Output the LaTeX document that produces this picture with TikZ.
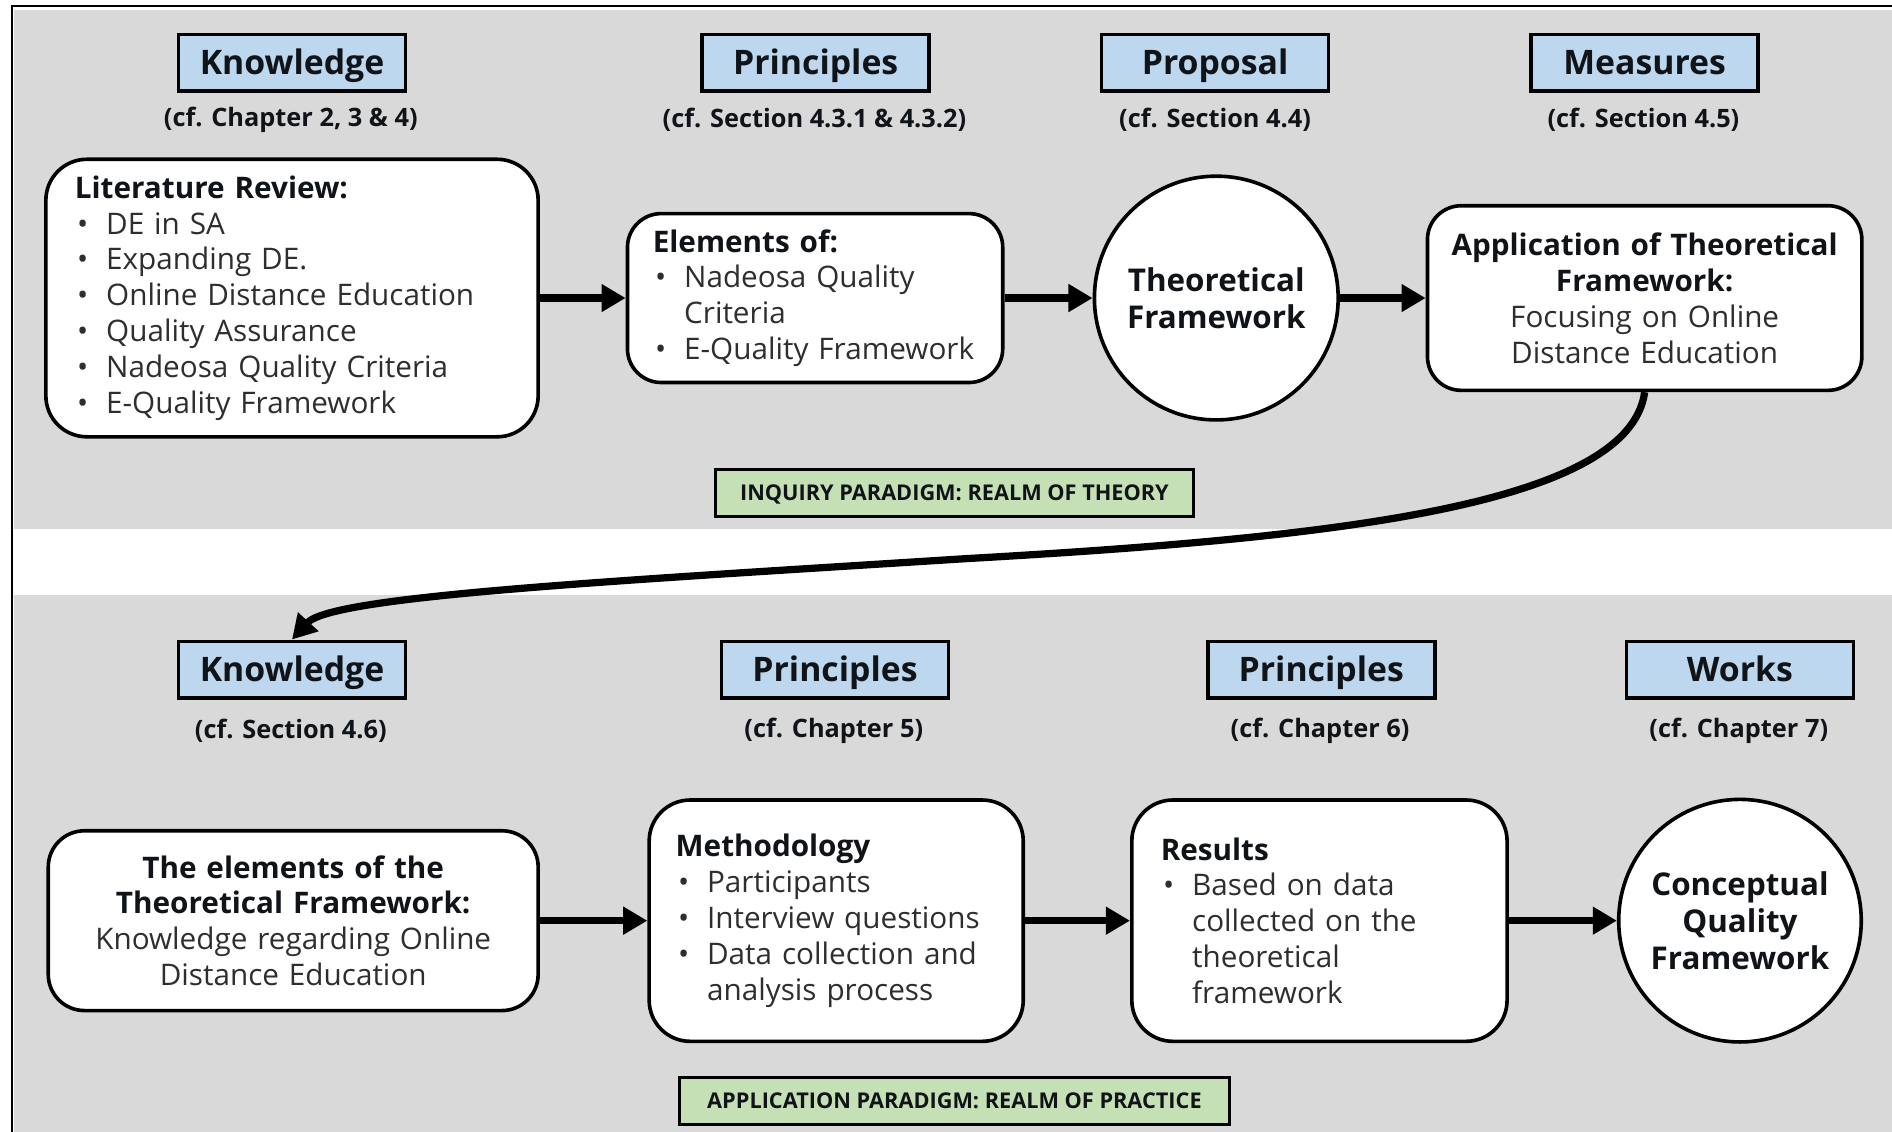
\documentclass[tikz,border=0pt]{standalone}
\usepackage{fontspec}
\setmainfont{Open Sans}
\usetikzlibrary{arrows.meta}

\definecolor{panelgray}{HTML}{D9D9D9}
\definecolor{hdrblue}{HTML}{BDD7EE}
\definecolor{taggreen}{HTML}{C5E0B4}
\definecolor{bodytext}{HTML}{2E2E2E}
\definecolor{inkdark}{HTML}{101418}

% bullet item and continuation indent for the list boxes
\newcommand\itm{\makebox[13pt][l]{\hspace{1pt}\textbullet}}
\newcommand\cont{\hspace*{13pt}}

\tikzset{
  hdr/.style={draw=black, line width=1.5pt, fill=hdrblue, minimum width=94pt,
    minimum height=23.5pt, inner sep=0pt, text=inkdark, text height=10pt, text depth=0.5pt,
    font=\fontsize{14}{16}\selectfont\bfseries},
  refnote/.style={inner sep=0pt, text=inkdark, font=\fontsize{10.5}{12}\selectfont\bfseries},
  card/.style={draw=black, line width=1.5pt, fill=white, rounded corners=14pt,
    inner ysep=0pt, text=bodytext, font=\fontsize{12.3}{14.85}\selectfont},
  disc/.style={draw=black, line width=1.5pt, fill=white, circle, inner sep=0pt,
    align=center, text=inkdark, font=\fontsize{13}{15.5}\selectfont\bfseries},
  tag/.style={draw=black, line width=1.5pt, fill=taggreen, inner sep=0pt,
    minimum height=19.5pt, text=inkdark, text height=6.5pt, text depth=0pt,
    font=\fontsize{9}{10}\selectfont\bfseries},
  flow/.style={line width=3pt, -{Triangle[length=10pt,width=11pt]}},
}

\begin{document}
\begin{tikzpicture}[x=0.5pt, y=-0.5pt]
  \useasboundingbox (0,0) rectangle (1568,938);
  \fill[white] (0,0) rectangle (1568,938);

  % two realm panels and the outer frame
  \fill[panelgray] (12,8) rectangle (1568,438);
  \fill[panelgray] (12,493) rectangle (1568,938);
  \draw[line width=1pt] (10,938) -- (10,5) -- (1568,5);

  % ---------- realm of theory ----------
  \node[hdr] (k1) at (242,52) {Knowledge};
  \node[hdr] (p1) at (676,52) {Principles};
  \node[hdr] (pr1) at (1007,52) {Proposal};
  \node[hdr] (m1) at (1363,52) {Measures};

  \node[refnote] (k1r) at (241,99.5) {(cf. Chapter 2, 3 \& 4)};
  \node[refnote] (p1r) at (675,99.5) {(cf. Section 4.3.1 \& 4.3.2)};
  \node[refnote] (pr1r) at (1007,99.5) {(cf. Section 4.4)};
  \node[refnote] (m1r) at (1362,99.5) {(cf. Section 4.5)};

  \node[card, rounded corners=17pt, minimum width=204pt, minimum height=115pt,
        inner xsep=12pt, text width=180pt, align=left] (lit) at (242,247)
    {{\color{inkdark}\bfseries Literature Review:}\\
     \itm DE in SA\\
     \itm Expanding DE.\\
     \itm Online Distance Education\\
     \itm Quality Assurance\\
     \itm Nadeosa Quality Criteria\\
     \itm E-Quality Framework};

  \node[card, minimum width=155.5pt, minimum height=70pt,
        inner xsep=10.5pt, text width=134.5pt, align=left] (elem) at (675.5,247)
    {{\color{inkdark}\bfseries Elements of:}\\
     \itm Nadeosa Quality\\
     \cont Criteria\\
     \itm E-Quality Framework};

  \node[disc, minimum size=101pt] (tf) at (1008,247) {Theoretical\\Framework};

  \node[card, minimum width=180pt, minimum height=76.5pt, inner xsep=4pt,
        text width=172pt, align=center] (app) at (1363,247)
    {{\color{inkdark}\bfseries Application of Theoretical\\ Framework:}\\
     Focusing on Online\\
     Distance Education};

  \node[tag, minimum width=198pt] (inq) at (791,408.5) {INQUIRY PARADIGM: REALM OF THEORY};

  \draw[flow] (lit.east) -- (elem.west);
  \draw[flow] (elem.east) -- (tf.west);
  \draw[flow] (tf.east) -- (app.west);

  % ---------- realm of practice ----------
  \node[hdr] (k2) at (242,555) {Knowledge};
  \node[hdr] (p2) at (692,555) {Principles};
  \node[hdr] (p3) at (1095,555) {Principles};
  \node[hdr] (w2) at (1442,555) {Works};

  \node[refnote] (k2r) at (241,605.5) {(cf. Section 4.6)};
  \node[refnote] (p2r) at (691,605.5) {(cf. Chapter 5)};
  \node[refnote] (p3r) at (1094,605.5) {(cf. Chapter 6)};
  \node[refnote] (w2r) at (1441,605.5) {(cf. Chapter 7)};

  \node[card, rounded corners=15pt, minimum width=203pt, minimum height=74.5pt,
        inner xsep=4pt, text width=195pt, align=center] (etf) at (243,763)
    {{\color{inkdark}\bfseries The elements of the\\ Theoretical Framework:}\\
     Knowledge regarding Online\\
     Distance Education};

  \node[card, rounded corners=17pt, minimum width=155pt, minimum height=100pt,
        inner xsep=11pt, text width=133pt, align=left] (meth) at (693,763)
    {{\color{inkdark}\bfseries Methodology}\\
     \itm Participants\\
     \itm Interview questions\\
     \itm Data collection and\\
     \cont analysis process};

  \node[card, rounded corners=17pt, minimum width=155.5pt, minimum height=100pt,
        inner xsep=12pt, text width=131.5pt, align=left] (res) at (1093.5,763)
    {{\color{inkdark}\bfseries Results}\\
     \itm Based on data\\
     \cont collected on the\\
     \cont theoretical\\
     \cont framework};

  \node[disc, minimum size=100.5pt] (cqf) at (1442,763) {Conceptual\\Quality\\Framework};

  \node[tag, minimum width=228pt] (app2) at (791,912.5) {APPLICATION PARADIGM: REALM OF PRACTICE};

  \draw[flow] (etf.east) -- (meth.west);
  \draw[flow] (meth.east) -- (res.west);
  \draw[flow] (res.east) -- (cqf.west);

  % link from the theory realm down to the practice realm
  \coordinate (bend) at (800,463);
  \draw[flow] (app.south) .. controls (1350,420) and (1100,446) .. (bend)
              .. controls (500,482) and (275,494) .. (k2.north);
\end{tikzpicture}
\end{document}
